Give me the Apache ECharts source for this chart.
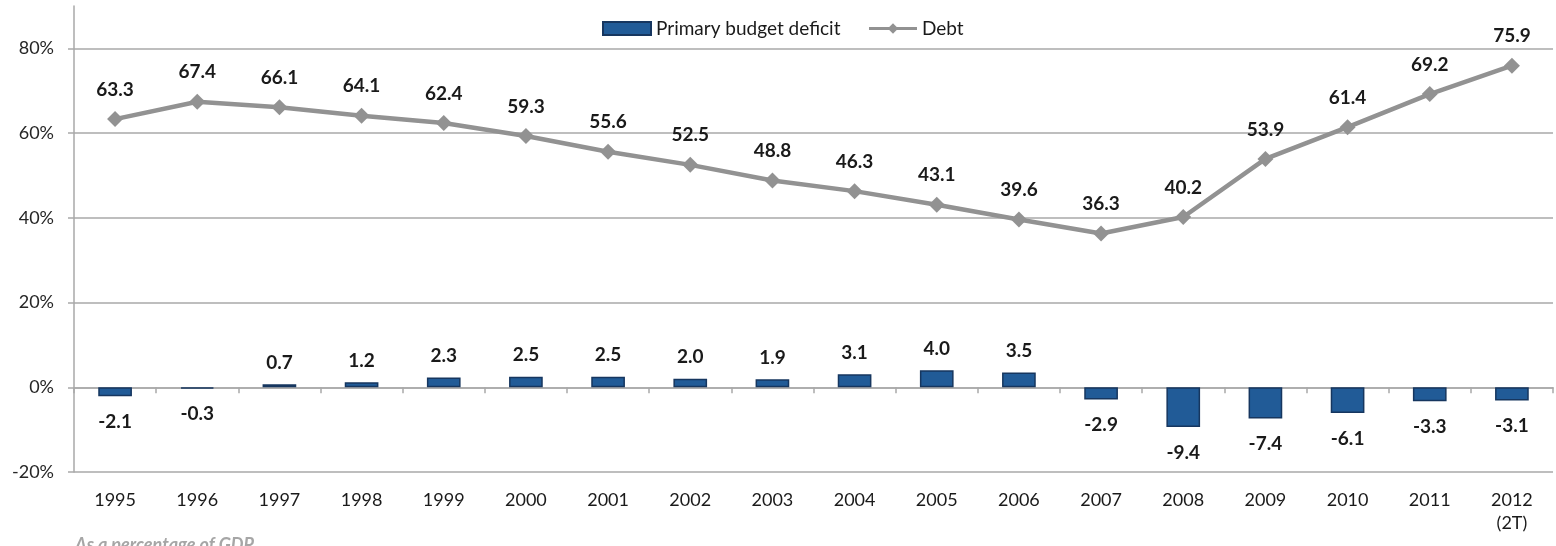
<!DOCTYPE html>
<html>
<head>
<meta charset="utf-8">
<script src="https://cdn.jsdelivr.net/npm/echarts@6/dist/echarts.min.js"></script>
<style>
  html, body { margin: 0; padding: 0; background: #fff; }
  #chart { width: 1556px; height: 546px; }
</style>
</head>
<body>
<div id="chart"></div>
<script>
// Years on the category axis
const years = ['1995', '1996', '1997', '1998', '1999', '2000', '2001', '2002', '2003',
  '2004', '2005', '2006', '2007', '2008', '2009', '2010', '2011', '2012\n(2T)'];
// Primary budget balance, % of GDP
const primaryDeficit = [-2.1, -0.3, 0.7, 1.2, 2.3, 2.5, 2.5, 2.0, 1.9, 3.1, 4.0, 3.5,
  -2.9, -9.4, -7.4, -6.1, -3.3, -3.1];
// Public debt, % of GDP
const debt = [63.3, 67.4, 66.1, 64.1, 62.4, 59.3, 55.6, 52.5, 48.8, 46.3, 43.1, 39.6,
  36.3, 40.2, 53.9, 61.4, 69.2, 75.9];
// Value-axis tick labels
const yTicks = [-20, 0, 20, 40, 60, 80];

const FONT = 'Lato, "Noto Sans", sans-serif';
const GRID_GRAY = '#a9a9a9';

// Bar labels sit above positive bars and below negative ones
const barData = primaryDeficit.map(v => ({
  value: v,
  label: {
    position: v >= 0 ? 'top' : 'bottom',
    distance: v >= 0 ? 12 : 16
  }
}));

const chart = echarts.init(document.getElementById('chart'), null, { renderer: 'canvas' });

chart.setOption({
  animation: false,
  textStyle: { fontFamily: FONT },
  grid: { left: 74, right: 3, top: 6, bottom: 74, containLabel: false },
  legend: {
    left: 597,
    top: 14,
    itemWidth: 48,
    itemHeight: 13,
    itemGap: 27,
    textStyle: { fontFamily: FONT, fontSize: 19, color: '#1a1a1a' },
    data: [
      { name: 'Primary budget deficit', icon: 'rect' },
      { name: 'Debt', lineStyle: { width: 3 } }
    ]
  },
  xAxis: [
    {
      // Axis line through zero with boundary ticks
      type: 'category',
      data: years,
      position: 'bottom',
      boundaryGap: true,
      axisLine: { onZero: true, lineStyle: { color: GRID_GRAY, width: 1.5 } },
      axisTick: { show: true, length: 6, lineStyle: { color: GRID_GRAY, width: 1.5 } },
      axisLabel: { show: false },
      splitLine: { show: false }
    },
    {
      // Year labels along the bottom edge
      type: 'category',
      data: years,
      position: 'bottom',
      boundaryGap: true,
      axisLine: { show: false, onZero: false },
      axisTick: { show: false },
      axisLabel: {
        show: true,
        margin: 17,
        fontSize: 18,
        lineHeight: 23,
        color: '#1a1a1a',
        fontFamily: FONT,
        interval: 0
      },
      splitLine: { show: false }
    }
  ],
  yAxis: {
    type: 'value',
    min: -20,
    max: 90,
    interval: 20,
    axisLine: { show: true, lineStyle: { color: GRID_GRAY, width: 1.5 } },
    axisTick: { show: true, length: 6, customValues: yTicks, lineStyle: { color: GRID_GRAY, width: 1.5 } },
    axisLabel: {
      customValues: yTicks,
      margin: 20,
      fontSize: 18,
      color: '#262626',
      fontFamily: FONT,
      formatter: v => v + '%'
    },
    splitLine: {
      show: true,
      lineStyle: {
        color: [GRID_GRAY, GRID_GRAY, GRID_GRAY, GRID_GRAY, GRID_GRAY, GRID_GRAY, 'rgba(0,0,0,0)'],
        width: 1.5
      }
    }
  },
  series: [
    {
      name: 'Primary budget deficit',
      type: 'bar',
      xAxisIndex: 0,
      barWidth: '41%',
      data: barData,
      itemStyle: { color: '#215b97', borderColor: '#16365f', borderWidth: 1.5 },
      label: {
        show: true,
        fontSize: 19,
        fontWeight: 'bold',
        color: '#1a1a1a',
        fontFamily: FONT,
        formatter: p => p.value.toFixed(1)
      },
      z: 2
    },
    {
      name: 'Debt',
      type: 'line',
      xAxisIndex: 0,
      data: debt,
      symbol: 'diamond',
      symbolSize: 16,
      lineStyle: { color: '#929292', width: 4.5 },
      itemStyle: { color: '#929292' },
      label: {
        show: true,
        position: 'top',
        distance: 12,
        fontSize: 19,
        fontWeight: 'bold',
        color: '#1a1a1a',
        fontFamily: FONT,
        formatter: p => p.value.toFixed(1)
      },
      z: 3
    }
  ],
  graphic: [
    {
      type: 'text',
      left: 75,
      top: 536,
      style: {
        text: 'As a percentage of GDP',
        font: 'italic bold 18px ' + FONT,
        fill: '#a6a6a6'
      }
    }
  ]
});
</script>
</body>
</html>
